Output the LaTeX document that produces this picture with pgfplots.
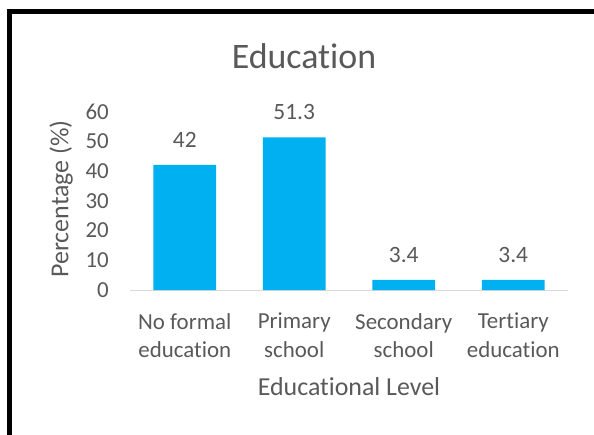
\documentclass[border=0pt]{standalone}
\usepackage{pgfplots}
\pgfplotsset{compat=1.18}
\usepackage{fontspec}
\setmainfont{Carlito}[Ligatures=NoCommon]
\definecolor{txt}{HTML}{595959}
\definecolor{barblue}{HTML}{00B0F0}
\definecolor{axgray}{HTML}{D9D9D9}
\begin{document}
\begin{tikzpicture}
\useasboundingbox (0,0) rectangle (594bp,435bp);
\draw[line width=5.6bp, black] (9.5bp,-2bp) |- (598bp,423.3bp);
\node[anchor=base, text=txt, font=\fontsize{36}{43}\selectfont] at (304bp,366bp) {Education};
\begin{axis}[
  at={(130bp,145bp)}, anchor=south west,
  scale only axis, width=438bp, height=178.6bp,
  xmin=-0.5, xmax=3.5, ymin=0, ymax=60,
  ytick={0,10,20,30,40,50,60},
  xtick={0,1,2,3},
  xticklabels={{No formal\\education},{Primary\\school},{Secondary\\school},{Tertiary\\education}},
  /pgf/number format/assume math mode=true,
  major tick length=0pt,
  axis x line*=bottom, axis y line*=left,
  x axis line style={draw=axgray, line width=1bp, -},
  y axis line style={draw=none},
  tick label style={text=txt, font=\fontsize{23}{28.5}\selectfont},
  yticklabel style={anchor=east, inner sep=0pt, xshift=-21bp},
  xticklabel style={align=center, anchor=north, inner sep=0pt, yshift=-23bp},
  xlabel={Educational Level},
  ylabel={Percentage (\%)},
  label style={text=txt, font=\fontsize{26}{31}\selectfont},
  xlabel style={at={(axis description cs:0.5,0)}, anchor=center, yshift=-97bp},
  ylabel style={at={(axis description cs:-0.157,0.51)}, anchor=center},
  nodes near coords,
  nodes near coords style={text=txt, font=\fontsize{23.5}{28}\selectfont, anchor=south, inner sep=0pt, yshift=17bp},
  clip=false,
]
\addplot[ybar, bar width=0.575, fill=barblue, draw=none] coordinates {(0,42) (1,51.3) (2,3.4) (3,3.4)};
\end{axis}
\end{tikzpicture}
\end{document}
